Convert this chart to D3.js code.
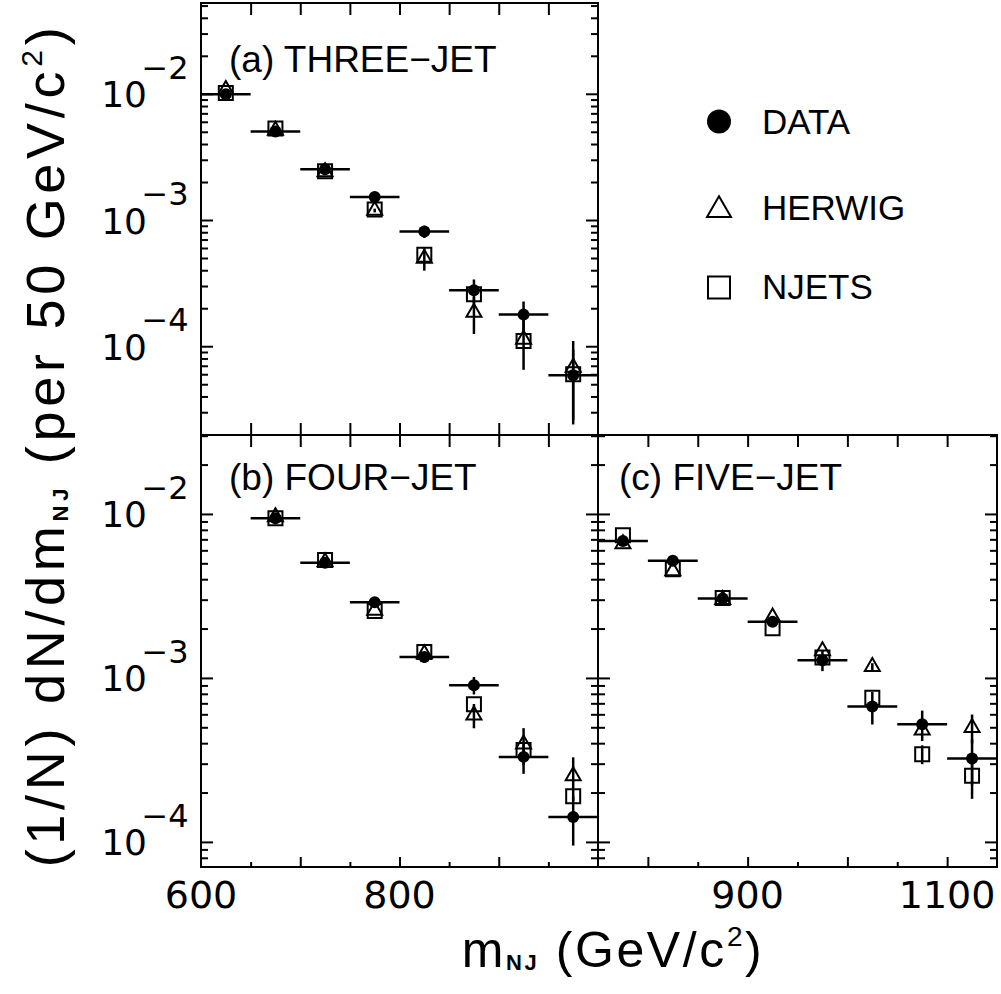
<!DOCTYPE html>
<html><head><meta charset="utf-8">
<script src="https://cdn.jsdelivr.net/npm/d3@7/dist/d3.min.js"></script>
<style>body{margin:0;background:#fff} svg{display:block}</style>
</head><body><svg id="chart" width="1001" height="994"></svg>
<script>
// ---------------- DATA ----------------
const seriesNames = ["DATA", "HERWIG", "NJETS"];
const binHalfWidth = 25;

// (a) three-jet
const threeJetMass   = [625, 675, 725, 775, 825, 875, 925, 975];
const threeJetData   = [0.0099, 0.00503, 0.00252, 0.00152, 0.00081, 0.000278, 0.000178, 0.000059];
const threeJetDataErr= [0.0003, 0.00015, 0.00008, 0.00006, 0.00009, 0.00006, 0.000048, 0.000035];
const threeJetHerwig = [0.0108, 0.00512, 0.0024, 0.00119, 0.000497, 0.000185, 0.000113, 0.000068];
const threeJetHerwigErr = [0, 0, 0, 0.00004, 0.0001, 0.00006, 0.000048, 0.000042];
const threeJetNjets  = [0.01015, 0.00531, 0.00243, 0.00121, 0.00053, 0.000258, 0.00011, 0.00006];
const threeJetNjetsErr = [0, 0, 0, 0, 0, 0, 0, 0];

// (b) four-jet
const fourJetMass    = [675, 725, 775, 825, 875, 925, 975];
const fourJetData    = [0.0094, 0.00504, 0.00289, 0.00134, 0.000903, 0.00033, 0.000142];
const fourJetDataErr = [0.0003, 0.00015, 0.0001, 0.0001, 0.00011, 0.00007, 0.000047];
const fourJetHerwig  = [0.0096, 0.0051, 0.00258, 0.0014, 0.000593, 0.000394, 0.000253];
const fourJetHerwigErr = [0, 0, 0, 0, 0.0001, 0.0001, 0.000075];
const fourJetNjets   = [0.0094, 0.00524, 0.00256, 0.00144, 0.000692, 0.000363, 0.00019];
const fourJetNjetsErr = [0, 0, 0, 0, 0, 0, 0];

// (c) five-jet
const fiveJetMass    = [775, 825, 875, 925, 975, 1025, 1075, 1125];
const fiveJetData    = [0.00684, 0.00519, 0.00305, 0.0022, 0.00128, 0.00067, 0.000522, 0.000323];
const fiveJetDataErr = [0.0003, 0.0003, 0.0002, 0.00015, 0.00018, 0.00015, 0.00011, 0.0001];
const fiveJetHerwig  = [0.00656, 0.0045, 0.0030, 0.00235, 0.00146, 0.00117, 0.00048, 0.000498];
const fiveJetHerwigErr = [0, 0, 0, 0, 0, 0.00006, 0, 0.0001];
const fiveJetNjets   = [0.00741, 0.0046, 0.00307, 0.00201, 0.00133, 0.000758, 0.000343, 0.000253];
const fiveJetNjetsErr = [0, 0, 0, 0, 0, 0, 0.000045, 0.00007];

// tick labels
const yMajorTicks = [1e-2, 1e-3, 1e-4];
const yTickExponents = ["−2", "−3", "−4"];
const xLabelTicksAB = [600, 800];
const xLabelTicksC = [900, 1100];
const panelTitles = ["(a) THREE−JET", "(b) FOUR−JET", "(c) FIVE−JET"];

// ---------------- LAYOUT ----------------
const L = 201, M = 598, R = 997, T = 3, MY = 435, B = 867;
const svg = d3.select("#chart");
svg.append("rect").attr("width", 1001).attr("height", 994).attr("fill", "#fff");

const xAB = d3.scaleLinear().domain([600, 1000]).range([L, M]);
const xC  = d3.scaleLinear().domain([750, 1150]).range([M, R]);
const yA  = d3.scaleLog().domain([1.98e-5, 5.24e-2]).range([MY, T]);
const yBC = d3.scaleLog().domain([7.03e-5, 3.03e-2]).range([B, MY]);

const panels = [
  {x: xAB, y: yA, box: [L, T, M, MY], mass: threeJetMass,
   data: threeJetData, dataErr: threeJetDataErr, her: threeJetHerwig, herErr: threeJetHerwigErr,
   nj: threeJetNjets, njErr: threeJetNjetsErr, title: panelTitles[0], tx: 229, ty: 71.5},
  {x: xAB, y: yBC, box: [L, MY, M, B], mass: fourJetMass,
   data: fourJetData, dataErr: fourJetDataErr, her: fourJetHerwig, herErr: fourJetHerwigErr,
   nj: fourJetNjets, njErr: fourJetNjetsErr, title: panelTitles[1], tx: 229, ty: 490},
  {x: xC, y: yBC, box: [M, MY, R, B], mass: fiveJetMass,
   data: fiveJetData, dataErr: fiveJetDataErr, her: fiveJetHerwig, herErr: fiveJetHerwigErr,
   nj: fiveJetNjets, njErr: fiveJetNjetsErr, title: panelTitles[2], tx: 619, ty: 490}
];

// ---------- ticks helper ----------
function styleAxis(g) {
  g.select(".domain").remove();
  g.selectAll(".tick line").attr("stroke", "#000").attr("stroke-width", 2);
  g.selectAll(".tick text").remove();
}
function yTicks(y, xPos, inwardRight) {
  const [d0, d1] = y.domain();
  const all = y.ticks().filter(v => v >= d0 && v <= d1);
  const major = all.filter(v => Math.abs(Math.log10(v) - Math.round(Math.log10(v))) < 1e-9);
  const minor = all.filter(v => !major.includes(v));
  [[major, 12], [minor, 7]].forEach(([vals, size]) => {
    const ax = (inwardRight ? d3.axisRight(y) : d3.axisLeft(y)).tickValues(vals).tickSize(size).tickSizeOuter(0);
    svg.append("g").attr("transform", `translate(${xPos},0)`).call(ax).call(styleAxis);
  });
}
function xTicks(x, yPos, down, vals, size) {
  const ax = (down ? d3.axisBottom(x) : d3.axisTop(x)).tickValues(vals).tickSize(size).tickSizeOuter(0);
  svg.append("g").attr("transform", `translate(0,${yPos})`).call(ax).call(styleAxis);
}
const every50AB = d3.range(650, 1000, 50);
const every50C = d3.range(800, 1150, 50);

// panel a
yTicks(yA, L, true); yTicks(yA, M, false);
xTicks(xAB, T, true, every50AB, 12); xTicks(xAB, MY, false, every50AB, 12);
// panel b
yTicks(yBC, L, true); yTicks(yBC, M, false);
xTicks(xAB, MY, true, every50AB, 12);
xTicks(xAB, B, false, every50AB.filter(v => v % 100 === 0), 10);
xTicks(xAB, B, false, every50AB.filter(v => v % 100 !== 0), 5);
// panel c
yTicks(yBC, M, true); yTicks(yBC, R, false);
xTicks(xC, MY, true, every50C, 12);
xTicks(xC, B, false, every50C.filter(v => v % 100 === 0), 10);
xTicks(xC, B, false, every50C.filter(v => v % 100 !== 0), 5);

// frames
panels.forEach(p => {
  const [x0, y0, x1, y1] = p.box;
  svg.append("rect").attr("x", x0).attr("y", y0).attr("width", x1 - x0).attr("height", y1 - y0)
    .attr("fill", "none").attr("stroke", "#000").attr("stroke-width", 2);
});

// ---------- marks ----------
const circ = d3.symbol().type(d3.symbolCircle).size(Math.PI * 36);
const tri = d3.symbol().type(d3.symbolTriangle).size(Math.sqrt(3) / 4 * 15 * 15);
const sqr = d3.symbol().type(d3.symbolSquare).size(14 * 14);

panels.forEach(p => {
  const g = svg.append("g");
  const vbar = (vals, errs) => {
    vals.forEach((v, i) => {
      if (!errs[i]) return;
      g.append("line").attr("x1", p.x(p.mass[i])).attr("x2", p.x(p.mass[i]))
        .attr("y1", p.y(Math.max(v - errs[i], p.y.domain()[0]))).attr("y2", p.y(v + errs[i]))
        .attr("stroke", "#000").attr("stroke-width", 2.5);
    });
  };
  vbar(p.her, p.herErr);
  vbar(p.nj, p.njErr);
  vbar(p.data, p.dataErr);
  p.data.forEach((v, i) => {
    g.append("line").attr("x1", p.x(p.mass[i] - binHalfWidth)).attr("x2", p.x(p.mass[i] + binHalfWidth))
      .attr("y1", p.y(v)).attr("y2", p.y(v)).attr("stroke", "#000").attr("stroke-width", 2.5);
  });
  p.nj.forEach((v, i) => {
    g.append("path").attr("d", sqr()).attr("transform", `translate(${p.x(p.mass[i])},${p.y(v)})`)
      .attr("fill", "none").attr("stroke", "#000").attr("stroke-width", 2);
  });
  p.her.forEach((v, i) => {
    g.append("path").attr("d", tri()).attr("transform", `translate(${p.x(p.mass[i])},${p.y(v)})`)
      .attr("fill", "none").attr("stroke", "#000").attr("stroke-width", 2);
  });
  p.data.forEach((v, i) => {
    g.append("path").attr("d", circ()).attr("transform", `translate(${p.x(p.mass[i])},${p.y(v)})`)
      .attr("fill", "#000");
  });
  svg.append("text").attr("x", p.tx).attr("y", p.ty).text(p.title)
    .attr("font-family", "Liberation Sans, Arial, sans-serif").attr("font-size", 37).attr("fill", "#000");
});

// ---------- y tick labels ----------
[yA, yBC].forEach(y => {
  yMajorTicks.forEach((v, i) => {
    const yy = y(v);
    svg.append("text").attr("x", 147).attr("y", yy + 13.5).attr("text-anchor", "end")
      .attr("font-family", "DejaVu Sans, sans-serif").attr("font-size", 36).text("10");
    svg.append("text").attr("x", 141.5).attr("y", yy - 15).attr("text-anchor", "start")
      .attr("font-family", "DejaVu Sans, sans-serif").attr("font-size", 32).text(yTickExponents[i]);
  });
});

// ---------- x tick labels ----------
xLabelTicksAB.forEach(v => svg.append("text").attr("x", xAB(v)).attr("y", 908).attr("text-anchor", "middle")
  .attr("font-family", "DejaVu Sans, sans-serif").attr("font-size", 38).text(v));
xLabelTicksC.forEach(v => svg.append("text").attr("x", xC(v)).attr("y", 908).attr("text-anchor", "middle")
  .attr("font-family", "DejaVu Sans, sans-serif").attr("font-size", 38).text(v));

// ---------- axis titles ----------
function spread(textSel, target) {
  const node = textSel.node();
  const len = node.getComputedTextLength();
  const n = node.textContent.length;
  textSel.attr("letter-spacing", Math.max(0, (target - len) / (n - 1)));
}
const xt = svg.append("text").attr("x", 613).attr("y", 967).attr("text-anchor", "middle")
  .attr("font-family", "Liberation Sans, Arial, sans-serif").attr("font-size", 50);
xt.append("tspan").text("m");
xt.append("tspan").attr("font-size", 22).attr("font-weight", "bold").attr("dy", 3).text("NJ");
xt.append("tspan").attr("dy", -3).text(" (GeV/c");
xt.append("tspan").attr("font-size", 28).attr("dy", -21).text("2");
xt.append("tspan").attr("dy", 21).text(")");
spread(xt, 300);

const yt = svg.append("text").attr("transform", "translate(64,445) rotate(-90)").attr("text-anchor", "middle")
  .attr("font-family", "Liberation Sans, Arial, sans-serif").attr("font-size", 54);
yt.append("tspan").text("(1/N) dN/dm");
yt.append("tspan").attr("font-size", 22).attr("font-weight", "bold").attr("dy", 4).text("NJ");
yt.append("tspan").attr("dy", -4).text(" (per 50 GeV/c");
yt.append("tspan").attr("font-size", 30).attr("dy", -22).text("2");
yt.append("tspan").attr("dy", 22).text(")");
spread(yt, 840);

// ---------- legend ----------
const legendSymbols = [
  d3.symbol().type(d3.symbolCircle).size(Math.PI * 144),
  d3.symbol().type(d3.symbolTriangle).size(Math.sqrt(3) / 4 * 24 * 24),
  d3.symbol().type(d3.symbolSquare).size(22 * 22)
];
const legendY = [121.5, 210, 287.5];
const legendBase = [133.5, 220, 299];
seriesNames.forEach((name, i) => {
  svg.append("path").attr("d", legendSymbols[i]()).attr("transform", `translate(719,${legendY[i]})`)
    .attr("fill", i === 0 ? "#000" : "none").attr("stroke", "#000").attr("stroke-width", i === 0 ? 0 : 2);
  svg.append("text").attr("x", 762).attr("y", legendBase[i])
    .attr("font-family", "Liberation Sans, Arial, sans-serif").attr("font-size", 35).text(name);
});
</script></body></html>
